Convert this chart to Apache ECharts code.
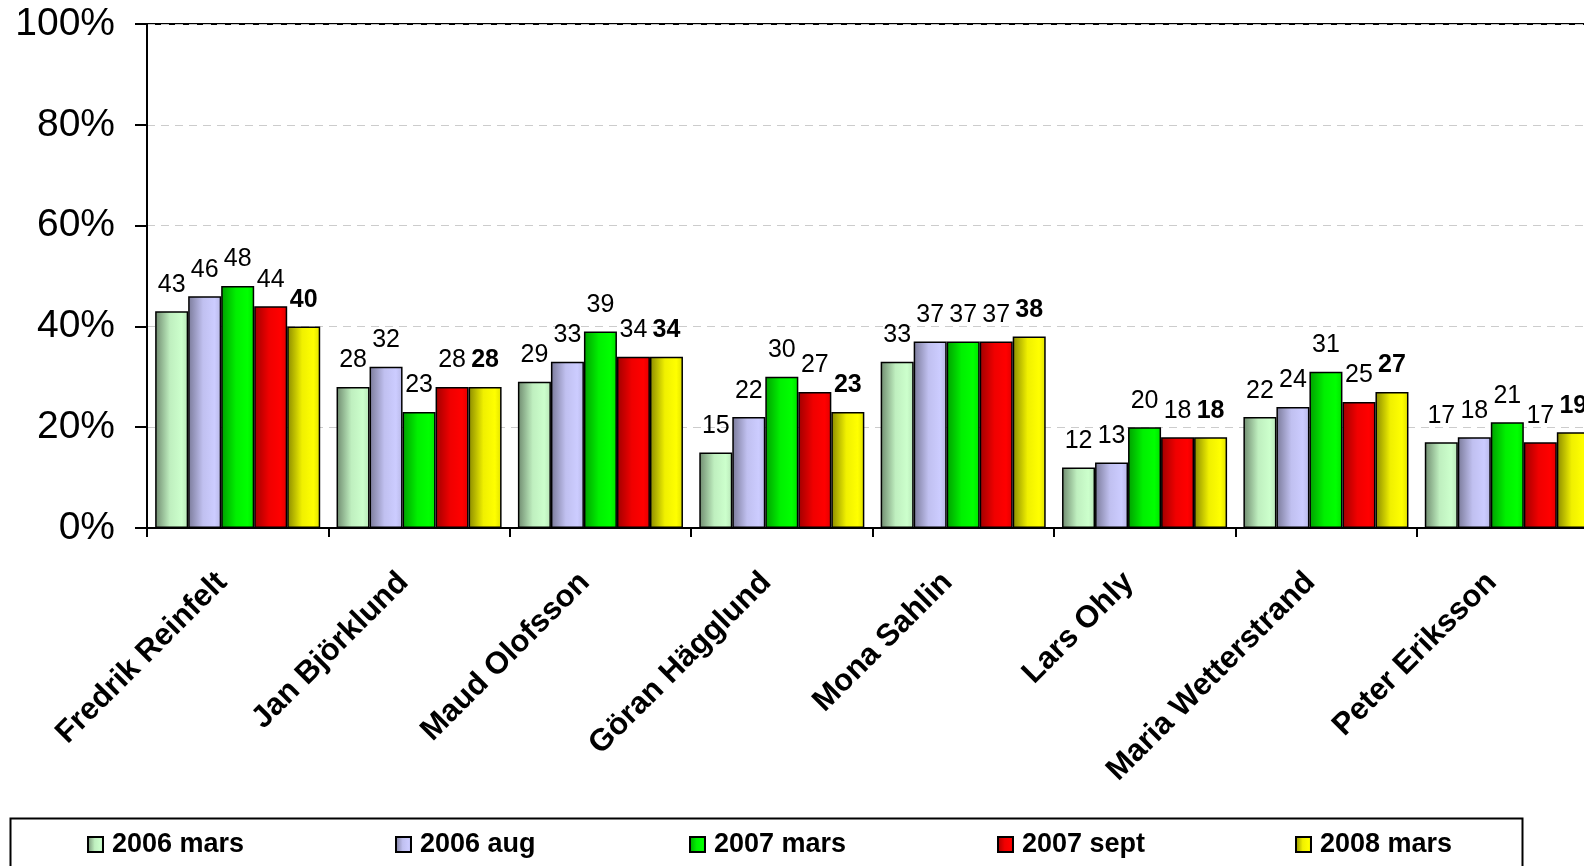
<!DOCTYPE html>
<html>
<head>
<meta charset="utf-8">
<script src="https://cdn.jsdelivr.net/npm/echarts@6/dist/echarts.min.js"></script>
<style>
html,body{margin:0;padding:0;background:#fff;overflow:hidden;width:1584px;height:866px;}
#c{width:1600px;height:866px;}
</style>
</head>
<body>
<div id="c"></div>
<script>
const categories = ['Fredrik Reinfelt','Jan Björklund','Maud Olofsson','Göran Hägglund','Mona Sahlin','Lars Ohly','Maria Wetterstrand','Peter Eriksson'];
const seriesNames = ['2006 mars','2006 aug','2007 mars','2007 sept','2008 mars'];
const s2006mars = [43,28,29,15,33,12,22,17];
const s2006aug  = [46,32,33,22,37,13,24,18];
const s2007mars = [48,23,39,30,37,20,31,21];
const s2007sept = [44,28,34,27,37,18,25,17];
const s2008mars = [40,28,34,23,38,18,27,19];
const yTicks = [0,20,40,60,80,100];

const seriesData = [s2006mars,s2006aug,s2007mars,s2007sept,s2008mars];
const gradStops = [
  ['#6f8a6f','#bfefbf','#ccffcc','#b8e6b8'],
  ['#7a7a99','#c0c0f0','#ccccff','#b8b8e6'],
  ['#00a000','#00f000','#00ff00','#00e000'],
  ['#a00000','#f00000','#ff0000','#e00000'],
  ['#8a8a00','#f0f000','#ffff00','#e0e000']
];
function grad(c){
  return new echarts.graphic.LinearGradient(0,0,1,0,[
    {offset:0,color:c[0]},{offset:0.45,color:c[1]},{offset:0.8,color:c[2]},{offset:1,color:c[3]}
  ]);
}
const FONT = "Arial, 'Liberation Sans', sans-serif";
const legendLefts = [82,390,684,992,1290];

const chart = echarts.init(document.getElementById('c'), null, {renderer:'canvas'});
const option = {
  animation:false,
  backgroundColor:'#fff',
  grid:{left:147, top:24, width:1451, height:504, show:true, borderColor:'#000', borderWidth:2, containLabel:false},
  xAxis:{
    type:'category', data:categories,
    axisLine:{lineStyle:{color:'#000',width:2}},
    axisTick:{show:true, length:9, lineStyle:{color:'#000',width:2}},
    axisLabel:{rotate:45, interval:0, margin:34, padding:[0,22,0,0], color:'#000', fontFamily:FONT, fontWeight:'bold', fontSize:31}
  },
  yAxis:{
    type:'value', min:0, max:100, interval:20,
    axisLine:{show:true, lineStyle:{color:'#000',width:2}},
    axisTick:{show:true, length:12, lineStyle:{color:'#000',width:2}},
    axisLabel:{formatter:function(v){return yTicks.indexOf(v)>=0 ? v+'%' : '';}, margin:32, color:'#000', fontFamily:FONT, fontSize:39},
    splitLine:{show:true, lineStyle:{color:'#cccccc', type:[8,6], width:1}}
  },
  legend: seriesNames.map(function(n,i){
    return {
      data:[n], left:legendLefts[i], top:826, orient:'horizontal',
      itemWidth:15, itemHeight:15, itemGap:0, icon:'rect',
      textStyle:{color:'#000', fontFamily:FONT, fontWeight:'bold', fontSize:27, padding:[0,0,0,4]}
    };
  }),
  graphic:[{type:'rect', left:8, top:816, shape:{width:1512, height:70}, style:{fill:'none', stroke:'#000', lineWidth:2}, silent:true}],
  series: seriesNames.map(function(n,i){
    return {
      name:n, type:'bar', data:seriesData[i],
      barGap:'0%', barCategoryGap:'9%',
      itemStyle:{color:grad(gradStops[i]), borderColor:'#000', borderWidth:1.5},
      label:{show:true, position:'top', distance:14, color:'#000', fontFamily:FONT, fontSize:25, fontWeight: i===4 ? 'bold':'normal'}
    };
  })
};
chart.setOption(option);
</script>
</body>
</html>
